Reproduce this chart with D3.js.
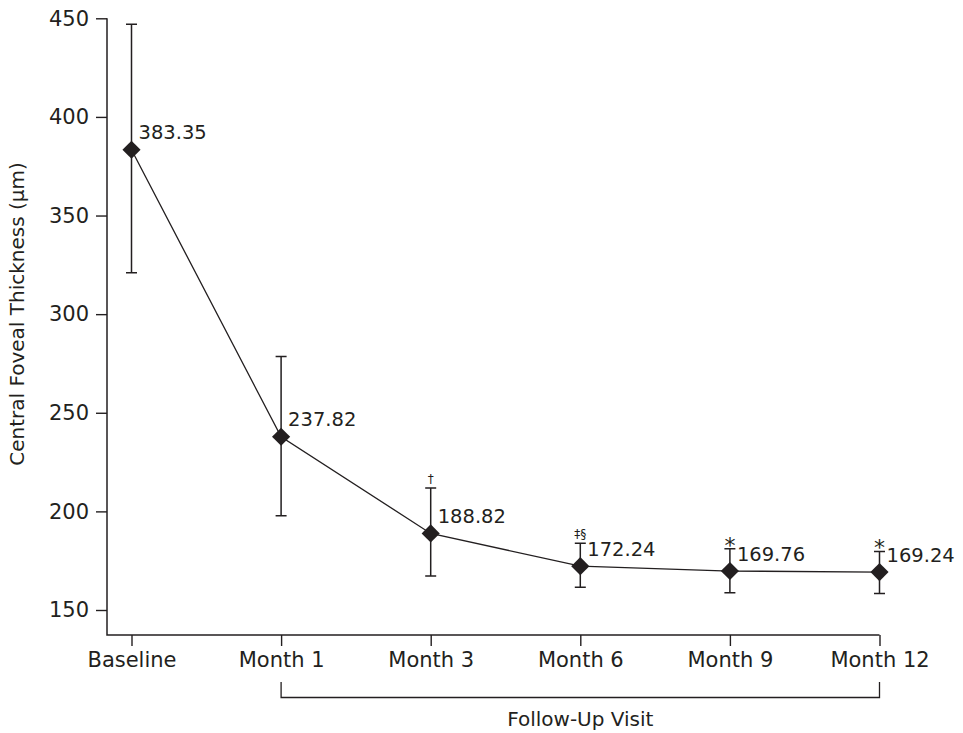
<!DOCTYPE html>
<html>
<head>
<meta charset="utf-8">
<script src="https://cdn.jsdelivr.net/npm/d3@7"></script>
<style>
  html, body { margin: 0; padding: 0; background: #fff; }
  svg text { font-family: 'DejaVu Sans', sans-serif; fill: #231f20; }
</style>
</head>
<body>
<figure id="cft" style="margin:0"></figure>
<script>
// visits and central foveal thickness (µm), mean with error bar ends
const visits = ['Baseline', 'Month 1', 'Month 3', 'Month 6', 'Month 9', 'Month 12'];
const meanCft = [383.35, 237.82, 188.82, 172.24, 169.76, 169.24];
const upperCft = [447, 278.5, 211.8, 183.8, 181, 179.7];
const lowerCft = [321, 197.8, 167.3, 161.5, 158.7, 158.4];
const sigMarks = ['', '', '†', '‡§', '*', '*'];
const yTicks = [150, 200, 250, 300, 350, 400, 450];
const followUp = ['Month 1', 'Month 12'];

const width = 963;
const height = 733;
const ink = '#231f20';
const axisX = 107;
const axisY = 635;

const data = visits.map((v, i) => ({
  visit: v, mean: meanCft[i], hi: upperCft[i], lo: lowerCft[i], mark: sigMarks[i]
}));

const svg = d3.select('figure#cft')
  .append('svg')
  .attr('width', width)
  .attr('height', height);

const x = d3.scalePoint()
  .domain(visits)
  .range([131.5, 879.5]);

const y = d3.scaleLinear()
  .domain([150, 450])
  .range([610, 18.3]);

// y axis
const yAxis = svg.append('g')
  .attr('transform', 'translate(' + axisX + ',0)')
  .call(d3.axisLeft(y).tickValues(yTicks).tickSize(11).tickPadding(7).tickSizeOuter(0));
yAxis.select('.domain').remove();
yAxis.selectAll('line').attr('stroke', ink).attr('stroke-width', 1.4);
yAxis.selectAll('text').style('font-size', '21px').attr('fill', ink);

// x axis
const xAxis = svg.append('g')
  .attr('transform', 'translate(0,' + axisY + ')')
  .call(d3.axisBottom(x).tickSize(11).tickPadding(6).tickSizeOuter(0));
xAxis.select('.domain').remove();
xAxis.selectAll('line').attr('stroke', ink).attr('stroke-width', 1.4);
xAxis.selectAll('text').style('font-size', '21px').attr('fill', ink);

// axis lines, the L shape
svg.append('path')
  .attr('d', 'M' + axisX + ',' + y(450) + 'V' + axisY + 'H' + x(visits[visits.length - 1]))
  .attr('fill', 'none')
  .attr('stroke', ink)
  .attr('stroke-width', 1.5);

// follow-up bracket
const bx0 = x(followUp[0]);
const bx1 = x(followUp[1]);
svg.append('path')
  .attr('d', 'M' + bx0 + ',682V697.5H' + bx1 + 'V682')
  .attr('fill', 'none')
  .attr('stroke', ink)
  .attr('stroke-width', 1.3);

svg.append('text')
  .attr('x', (bx0 + bx1) / 2)
  .attr('y', 726)
  .attr('text-anchor', 'middle')
  .style('font-size', '20px')
  .text('Follow-Up Visit');

svg.append('text')
  .attr('transform', 'translate(24,' + 314 + ')rotate(-90)')
  .attr('text-anchor', 'middle')
  .style('font-size', '20px')
  .text('Central Foveal Thickness (µm)');

// error bars
const bars = svg.append('g')
  .attr('stroke', ink)
  .attr('stroke-width', 1.5)
  .attr('fill', 'none');

bars.selectAll('path')
  .data(data)
  .enter()
  .append('path')
  .attr('d', d => {
    const cx = x(d.visit);
    return 'M' + (cx - 5.5) + ',' + y(d.hi) + 'H' + (cx + 5.5) +
      'M' + cx + ',' + y(d.hi) + 'V' + y(d.lo) +
      'M' + (cx - 5.5) + ',' + y(d.lo) + 'H' + (cx + 5.5);
  });

// mean line
const line = d3.line()
  .x(d => x(d.visit))
  .y(d => y(d.mean));

svg.append('path')
  .datum(data)
  .attr('d', line)
  .attr('fill', 'none')
  .attr('stroke', ink)
  .attr('stroke-width', 1.3);

// diamond markers
svg.selectAll('.marker')
  .data(data)
  .enter()
  .append('path')
  .attr('class', 'marker')
  .attr('d', d3.symbol(d3.symbolSquare, 165))
  .attr('transform', d => 'translate(' + x(d.visit) + ',' + y(d.mean) + ')rotate(45)')
  .attr('fill', ink);

// value labels
svg.selectAll('.value')
  .data(data)
  .enter()
  .append('text')
  .attr('class', 'value')
  .attr('x', d => x(d.visit) + 7)
  .attr('y', d => y(d.mean) - 10.5)
  .style('font-size', '19.5px')
  .text(d => d.mean.toFixed(2));

// significance marks above the upper caps
svg.selectAll('.sig')
  .data(data.filter(d => d.mark))
  .enter()
  .append('text')
  .attr('class', 'sig')
  .attr('x', d => x(d.visit))
  .attr('y', d => d.mark === '*' ? y(d.hi) + 4 : y(d.hi) - 5)
  .attr('text-anchor', 'middle')
  .style('font-size', d => d.mark === '*' ? '22px' : '12px')
  .text(d => d.mark);
</script>
</body>
</html>
